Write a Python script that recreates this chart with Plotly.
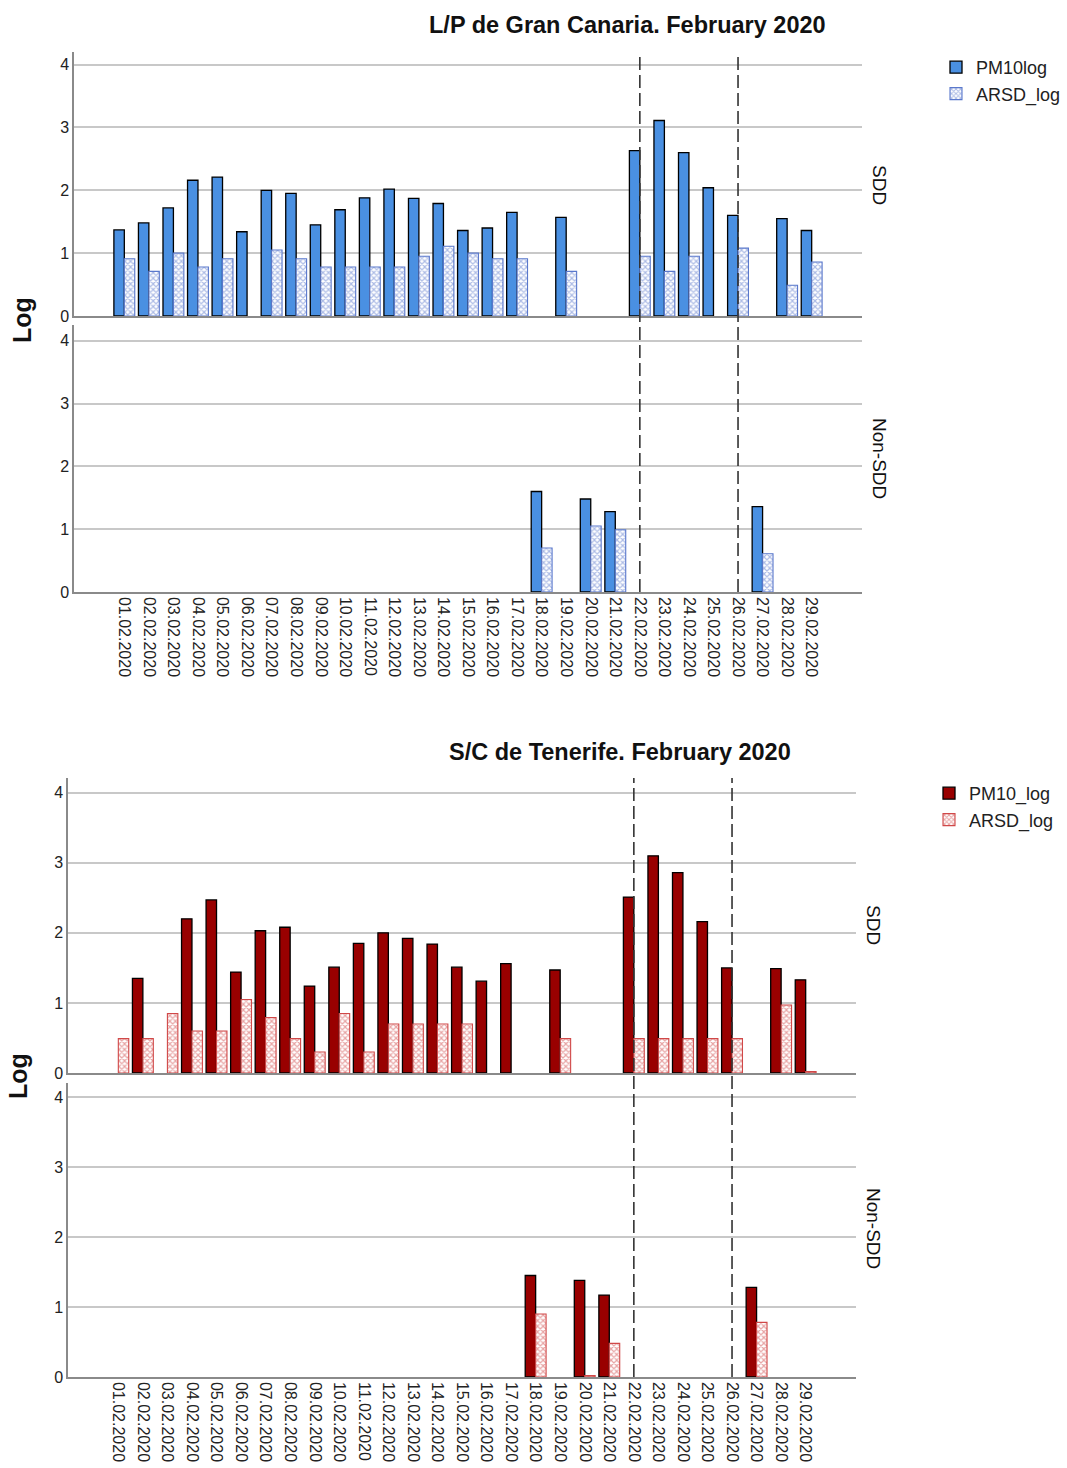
import plotly.graph_objects as go

# Kategorije (datumi)
dates = [
    "01.02.2020", "02.02.2020", "03.02.2020", "04.02.2020", "05.02.2020",
    "06.02.2020", "07.02.2020", "08.02.2020", "09.02.2020", "10.02.2020",
    "11.02.2020", "12.02.2020", "13.02.2020", "14.02.2020", "15.02.2020",
    "16.02.2020", "17.02.2020", "18.02.2020", "19.02.2020", "20.02.2020",
    "21.02.2020", "22.02.2020", "23.02.2020", "24.02.2020", "25.02.2020",
    "26.02.2020", "27.02.2020", "28.02.2020", "29.02.2020",
]
event_dates = ["22.02.2020", "26.02.2020"]
y_ticks = [0, 1, 2, 3, 4]

# Gran Canaria
gc_sdd_pm = [1.37, 1.48, 1.72, 2.16, 2.21, 1.34, 2.00, 1.95, 1.45, 1.69, 1.88, 2.02, 1.87, 1.79, 1.36,
             1.40, 1.65, None, 1.57, None, None, 2.63, 3.11, 2.60, 2.04, 1.60, None, 1.55, 1.36]
gc_sdd_arsd = [0.91, 0.71, 1.00, 0.78, 0.91, None, 1.05, 0.91, 0.78, 0.78, 0.78, 0.78, 0.95, 1.11, 1.00,
               0.91, 0.91, None, 0.71, None, None, 0.95, 0.71, 0.95, None, 1.08, None, 0.49, 0.86]
gc_non_pm = [None] * 17 + [1.60, None, 1.48, 1.28, None, None, None, None, None, 1.36, None, None]
gc_non_arsd = [None] * 17 + [0.70, None, 1.05, 0.99, None, None, None, None, None, 0.61, None, None]

# Tenerife
tf_sdd_pm = [None, 1.35, None, 2.20, 2.47, 1.44, 2.03, 2.08, 1.24, 1.51, 1.85, 2.00, 1.92, 1.84, 1.51,
             1.31, 1.56, None, 1.47, None, None, 2.51, 3.10, 2.86, 2.16, 1.50, None, 1.49, 1.33]
tf_sdd_arsd = [0.49, 0.49, 0.85, 0.60, 0.60, 1.05, 0.79, 0.49, 0.30, 0.85, 0.30, 0.70, 0.70, 0.70, 0.70,
               None, None, None, 0.49, None, None, 0.49, 0.49, 0.49, 0.49, 0.49, None, 0.97, 0.02]
tf_non_pm = [None] * 17 + [1.45, None, 1.38, 1.17, None, None, None, None, None, 1.28, None, None]
tf_non_arsd = [None] * 17 + [0.90, None, 0.02, 0.48, None, None, None, None, None, 0.78, None, None]

W, H = 1067, 1468
FONT = "Liberation Sans, Arial, sans-serif"
BLUE = "#4a90e2"
BLUE_LINE = "#5a78cc"
RED = "#990000"
RED_LINE = "#d04848"
GRID = "#c8c8c8"
AXIS = "#8a8a8a"


def py(px):
    # piksel od vrha -> paper koordinata
    return 1 - px / H


def pm_bar(x, y, name, color, xa, ya, legend, show):
    return go.Bar(x=x, y=y, name=name, xaxis=xa, yaxis=ya, legend=legend,
                  showlegend=show, legendgroup=name + legend,
                  marker=dict(color=color, line=dict(color="black", width=1.3)))


def arsd_bar(x, y, name, color, xa, ya, legend, show):
    return go.Bar(x=x, y=y, name=name, xaxis=xa, yaxis=ya, legend=legend,
                  showlegend=show, legendgroup=name + legend,
                  marker=dict(color="white", line=dict(color=color, width=1.1),
                              pattern=dict(shape="x", fgcolor=color, bgcolor="white",
                                           size=4, solidity=0.5)))


fig = go.Figure()
fig.add_trace(pm_bar(dates, gc_sdd_pm, "PM10log", BLUE, "x", "y", "legend", True))
fig.add_trace(arsd_bar(dates, gc_sdd_arsd, "ARSD_log", BLUE_LINE, "x", "y", "legend", True))
fig.add_trace(pm_bar(dates, gc_non_pm, "PM10log", BLUE, "x2", "y2", "legend", False))
fig.add_trace(arsd_bar(dates, gc_non_arsd, "ARSD_log", BLUE_LINE, "x2", "y2", "legend", False))
fig.add_trace(pm_bar(dates, tf_sdd_pm, "PM10_log", RED, "x3", "y3", "legend2", True))
fig.add_trace(arsd_bar(dates, tf_sdd_arsd, "ARSD_log", RED_LINE, "x3", "y3", "legend2", True))
fig.add_trace(pm_bar(dates, tf_non_pm, "PM10_log", RED, "x4", "y4", "legend2", False))
fig.add_trace(arsd_bar(dates, tf_non_arsd, "ARSD_log", RED_LINE, "x4", "y4", "legend2", False))


def xaxis(domain, anchor, labels, match=None):
    d = dict(domain=domain, anchor=anchor, type="category", categoryarray=dates,
             range=[-2.05, 30.05], showgrid=False, showline=True, linecolor=AXIS,
             linewidth=1.5, ticks="", showticklabels=labels, tickangle=90,
             tickfont=dict(size=16, color="#222", family=FONT), automargin=False)
    if match:
        d["matches"] = match
    return d


def yaxis(domain, anchor, top):
    return dict(domain=domain, anchor=anchor, range=[0, top], tickvals=y_ticks,
                showgrid=True, gridcolor=GRID, gridwidth=1.5, zeroline=False,
                showline=True, linecolor=AXIS, linewidth=1.5, ticks="",
                tickfont=dict(size=16, color="#222", family=FONT), automargin=False)


gc_x = [74 / W, 862 / W]
tf_x = [68 / W, 856 / W]

fig.update_layout(
    width=W, height=H,
    margin=dict(l=0, r=0, t=0, b=0),
    paper_bgcolor="white", plot_bgcolor="white",
    barmode="group", bargap=0.15, bargroupgap=0,
    font=dict(family=FONT, color="#222"),
    xaxis=xaxis(gc_x, "y", False),
    yaxis=yaxis([py(316), py(52)], "x", 4.2),
    xaxis2=xaxis(gc_x, "y2", True, "x"),
    yaxis2=yaxis([py(592), py(325)], "x2", 4.25),
    xaxis3=xaxis(tf_x, "y3", False),
    yaxis3=yaxis([py(1073), py(778)], "x3", 4.21),
    xaxis4=xaxis(tf_x, "y4", True, "x3"),
    yaxis4=yaxis([py(1377), py(1083)], "x4", 4.2),
    legend=dict(x=936 / W, y=py(49), xanchor="left", yanchor="top",
                font=dict(size=18, family=FONT, color="#222"), tracegroupgap=0,
                bgcolor="rgba(0,0,0,0)"),
    legend2=dict(x=929 / W, y=py(775), xanchor="left", yanchor="top",
                 font=dict(size=18, family=FONT, color="#222"), tracegroupgap=0,
                 bgcolor="rgba(0,0,0,0)"),
)

# Isprekidane vertikalne linije
for d in event_dates:
    fig.add_shape(type="line", xref="x", yref="paper", x0=d, x1=d, y0=py(592), y1=py(52),
                  line=dict(color="#333", width=1.6, dash="13px,5px"))
    fig.add_shape(type="line", xref="x3", yref="paper", x0=d, x1=d, y0=py(1377), y1=py(778),
                  line=dict(color="#333", width=1.6, dash="13px,5px"))

annotations = [
    dict(text="<b>L/P de Gran Canaria. February 2020</b>", x=627 / W, y=py(25),
         font=dict(size=23.5)),
    dict(text="<b>S/C de Tenerife. February 2020</b>", x=620 / W, y=py(752),
         font=dict(size=23.5)),
    dict(text="<b>Log</b>", x=22 / W, y=py(320), textangle=-90, font=dict(size=25)),
    dict(text="<b>Log</b>", x=18 / W, y=py(1076), textangle=-90, font=dict(size=25)),
    dict(text="SDD", x=880 / W, y=py(185), textangle=90, font=dict(size=19)),
    dict(text="Non-SDD", x=880 / W, y=py(458), textangle=90, font=dict(size=19)),
    dict(text="SDD", x=874 / W, y=py(925), textangle=90, font=dict(size=19)),
    dict(text="Non-SDD", x=874 / W, y=py(1228), textangle=90, font=dict(size=19)),
]
for a in annotations:
    a.update(xref="paper", yref="paper", showarrow=False, xanchor="center", yanchor="middle")
    a["font"].update(family=FONT, color="#111")
    fig.add_annotation(**a)

fig.write_html("out.html", config={"displayModeBar": False},
               post_script="document.body.style.margin='0';")
